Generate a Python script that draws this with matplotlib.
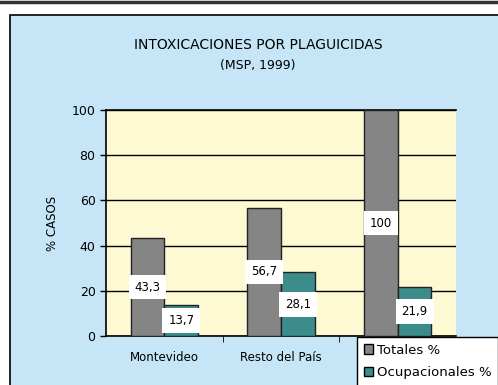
import matplotlib.pyplot as plt
import numpy as np
from matplotlib.patches import Patch, Rectangle
from matplotlib.lines import Line2D

# Datos: intoxicaciones por plaguicidas (MSP, 1999)
categorias = ["Montevideo", "Resto del País", ""]
totales = [43.3, 56.7, 100.0]
ocupacionales = [13.7, 28.1, 21.9]
etiquetas_tot = ["43,3", "56,7", "100"]
etiquetas_ocu = ["13,7", "28,1", "21,9"]
yticks = [0, 20, 40, 60, 80, 100]

GRIS = "#858585"
VERDE = "#3d8c8c"
FONDO = "#c6e6f7"
AREA = "#fdf9d2"

W, H = 498, 385
fig = plt.figure(figsize=(W / 100, H / 100), dpi=100)
fig.patch.set_facecolor("white")

# marco exterior del grafico
fig.add_artist(Rectangle((10 / W, -0.05), 1.0, 1.05 - 15 / H, transform=fig.transFigure,
                         facecolor=FONDO, edgecolor="black", linewidth=1.2, zorder=0))
fig.add_artist(Line2D([0, 1], [1 - 1.5 / H, 1 - 1.5 / H], transform=fig.transFigure,
                      color="#333333", linewidth=2.5))

ax = fig.add_axes([106 / W, 49 / H, 350 / W, 226 / H])
ax.set_facecolor(AREA)

x = np.arange(len(categorias))
ancho = 0.29
ax.bar(x - ancho / 2, totales, ancho, color=GRIS, edgecolor="#222222",
       linewidth=1.0, zorder=3)
ax.bar(x + ancho / 2, ocupacionales, ancho, color=VERDE, edgecolor="#222222",
       linewidth=1.0, zorder=3)

caja = dict(facecolor="white", edgecolor="none", boxstyle="square,pad=0.5")
for xi, v, t in zip(x - ancho / 2, totales, etiquetas_tot):
    ax.text(xi, v / 2, t, ha="center", va="center", fontsize=8.5,
            bbox=caja, zorder=5)
for xi, v, t in zip(x + ancho / 2, ocupacionales, etiquetas_ocu):
    ax.text(xi, v / 2, t, ha="center", va="center", fontsize=8.5,
            bbox=caja, zorder=5)

ax.set_ylim(0, 100)
ax.set_xlim(-0.5, 2.5)
ax.set_yticks(yticks)
ax.set_yticklabels([str(v) for v in yticks], fontsize=9)
ax.yaxis.grid(True, color="black", linewidth=1.0, zorder=1)
ax.set_axisbelow(True)

ax.set_xticks(x)
ax.set_xticklabels(categorias, fontsize=8.5)
ax.tick_params(axis="x", length=0, pad=11)
ax.set_xticks([0.5, 1.5], minor=True)
ax.tick_params(axis="x", which="minor", length=4, direction="out")
ax.tick_params(axis="y", length=4, direction="out", width=1.0)

for lado in ["left", "bottom", "top"]:
    ax.spines[lado].set_color("black")
    ax.spines[lado].set_linewidth(1.2)
ax.spines["right"].set_visible(False)

ax.set_ylabel("% CASOS", fontsize=8.5, labelpad=9)

fig.text(258 / W, 1 - 45 / H, "INTOXICACIONES POR PLAGUICIDAS", ha="center",
         va="center", fontsize=10)
fig.text(258 / W, 1 - 65 / H, "(MSP, 1999)", ha="center", va="center", fontsize=9)

handles = [Patch(facecolor=GRIS, edgecolor="black", label="Totales %"),
           Patch(facecolor=VERDE, edgecolor="black", label="Ocupacionales %")]
leg = fig.legend(handles=handles, loc="upper left",
                 bbox_to_anchor=(357 / W, 1 - 337 / H), fontsize=9.5,
                 fancybox=False, framealpha=1, edgecolor="black",
                 handlelength=0.7, handleheight=0.7, handletextpad=0.3,
                 borderpad=0.5, labelspacing=0.75, borderaxespad=0)
leg.get_frame().set_linewidth(1.0)
leg.set_zorder(10)

fig.savefig("out.png", dpi=100)
